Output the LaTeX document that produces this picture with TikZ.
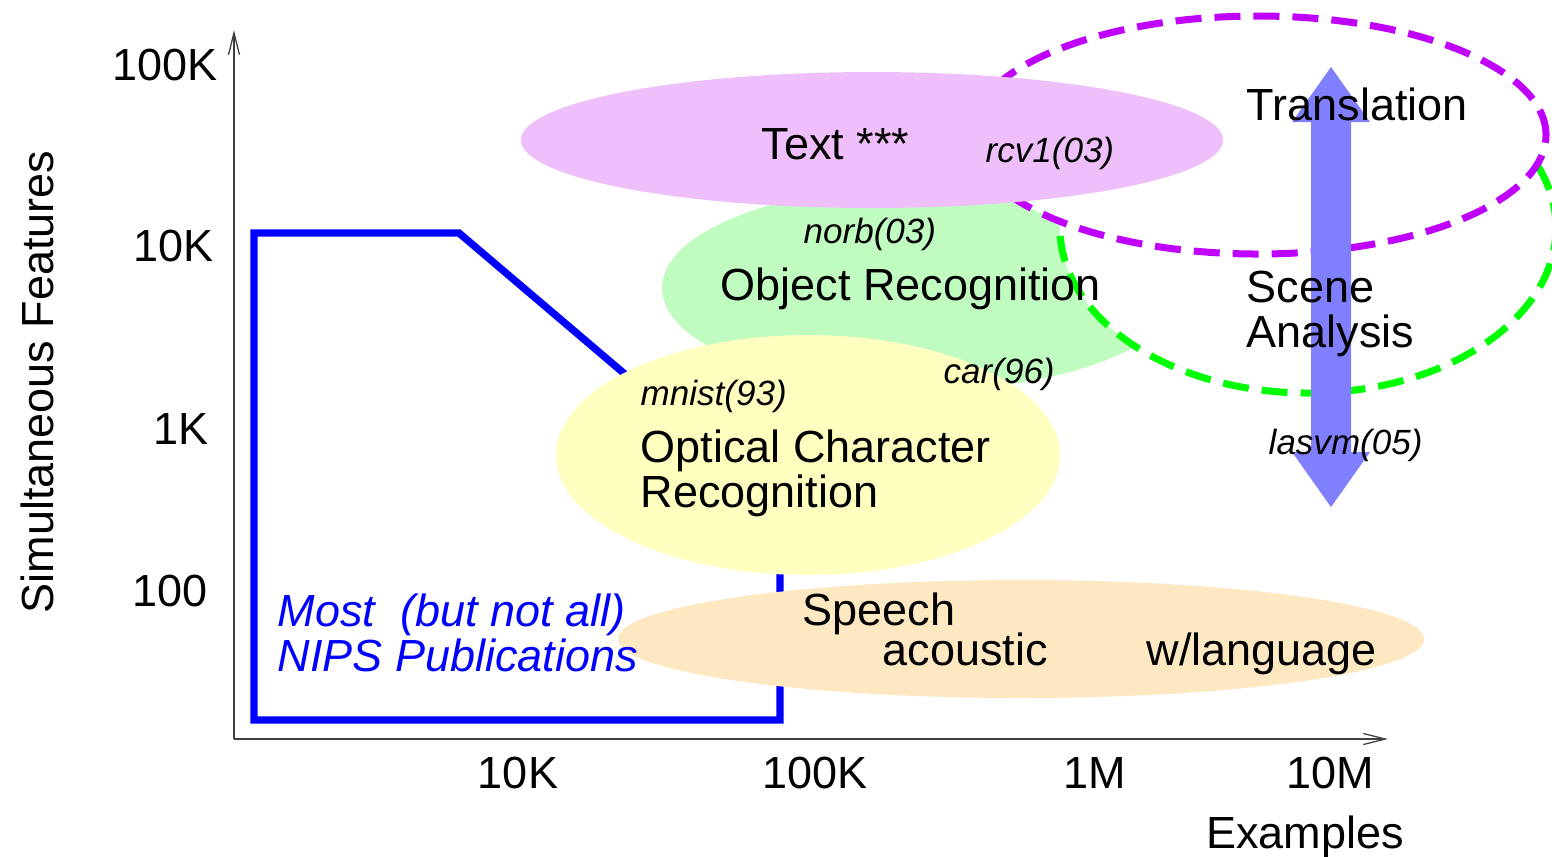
\documentclass[tikz,border=0pt]{standalone}
\usepackage{fontspec}
\setmainfont{Liberation Sans}
\usepackage{tikz}
\usetikzlibrary{arrows.meta}
\definecolor{textpink}{RGB}{239,191,251}
\definecolor{objgreen}{RGB}{192,252,192}
\definecolor{ocryellow}{RGB}{255,255,192}
\definecolor{speechtan}{RGB}{254,232,194}
\definecolor{transpurple}{RGB}{191,0,255}
\definecolor{scenegreen}{RGB}{0,255,0}
\definecolor{scaleblue}{RGB}{128,128,255}

\begin{document}
\begin{tikzpicture}[
    x=0.01cm, y=0.01cm,
    big/.style={inner sep=0pt, font=\fontsize{12.8}{12.8}\selectfont},
    small/.style={inner sep=0pt, font=\fontsize{9.96}{9.96}\selectfont\itshape},
    ring/.style={line width=0.07cm, dash pattern=on 0.26cm off 0.13cm, fill=white},
    axis/.style={draw=black!75, line width=0.013cm, -{Straight Barb[length=0.22cm,width=0.11cm]}},
    nips/.style={draw=blue, line width=0.073cm, line join=miter}
]
    \useasboundingbox (0,0) rectangle (1552,-856);

    % Regions
    \draw[nips] (254,-233) -- (459,-233) -- (780,-506) -- (780,-720) -- (254,-720) -- cycle;
    \fill[objgreen] (922,-288) ellipse [x radius=260, y radius=102];
    \draw[ring, draw=scenegreen] (1308,-228) ellipse [x radius=248, y radius=165];
    \draw[ring, draw=transpurple] (1258,-135) ellipse [x radius=288, y radius=119];
    \fill[textpink] (872,-140) ellipse [x radius=351, y radius=68];
    \fill[ocryellow] (808,-455) ellipse [x radius=252, y radius=120];
    \fill[speechtan] (1021,-639) ellipse [x radius=403, y radius=59];
    \fill[scaleblue] (1331,-67) -- (1370,-122) -- (1351,-122) -- (1351,-452) -- (1370,-452)
        -- (1331,-507) -- (1292,-452) -- (1311,-452) -- (1311,-122) -- (1292,-122) -- cycle;

    % Axes
    \coordinate (origin) at (234,-739);
    \coordinate (ytop) at (234,-30);
    \coordinate (xend) at (1388,-739);
    \draw[axis] (origin) -- (ytop);
    \draw[axis] (origin) -- (xend);

    % Nodes
    \node[big, anchor=base east] (f100k) at (218,-80) {100K};
    \node[big, anchor=base east] (f10k) at (214,-261) {10K};
    \node[big, anchor=base east] (f1k) at (209,-444) {1K};
    \node[big, anchor=base east] (f100) at (208,-606) {100};
    \node[big, anchor=base, rotate=90] (features) at (54,-382) {Simultaneous Features};
    \node[big, anchor=base] (e10k) at (518,-788) {10K};
    \node[big, anchor=base] (e100k) at (815,-788) {100K};
    \node[big, anchor=base] (e1m) at (1095,-788) {1M};
    \node[big, anchor=base] (e10m) at (1330,-788) {10M};
    \node[big, anchor=base] (examples) at (1305,-848) {Examples};

    \node[big, anchor=base west] (text) at (761,-159) {Text ***};
    \node[small, anchor=base west] (rcv) at (985,-162) {rcv1(03)};
    \node[small, anchor=base west] (norb) at (803,-243) {norb(03)};
    \node[big, anchor=base west] (object) at (720,-300) {Object Recognition};
    \node[small, anchor=base west] (car) at (943,-383) {car(96)};
    \node[small, anchor=base west] (mnist) at (640,-405) {mnist(93)};
    % multi-line nodes: base is the last line
    \node[big, anchor=base west, align=left] (ocr) at (640,-507) {Optical Character\\Recognition};
    \node[big, anchor=base west] (speech) at (802,-625) {Speech};
    \node[big, anchor=base west] (acoustic) at (882,-665) {acoustic};
    \node[big, anchor=base west] (language) at (1146,-665) {w/language};
    \node[big, anchor=base west, align=left, text=blue, font=\fontsize{12.8}{12.8}\selectfont\itshape] (most) at (277,-671) {Most\ \ (but not all)\\NIPS Publications};
    \node[big, anchor=base west] (translation) at (1246,-120) {Translation};
    \node[big, anchor=base west, align=left] (scene) at (1246,-347) {Scene\\Analysis};
    \node[small, anchor=base west] (lasvm) at (1268,-454) {lasvm(05)};
\end{tikzpicture}
\end{document}
